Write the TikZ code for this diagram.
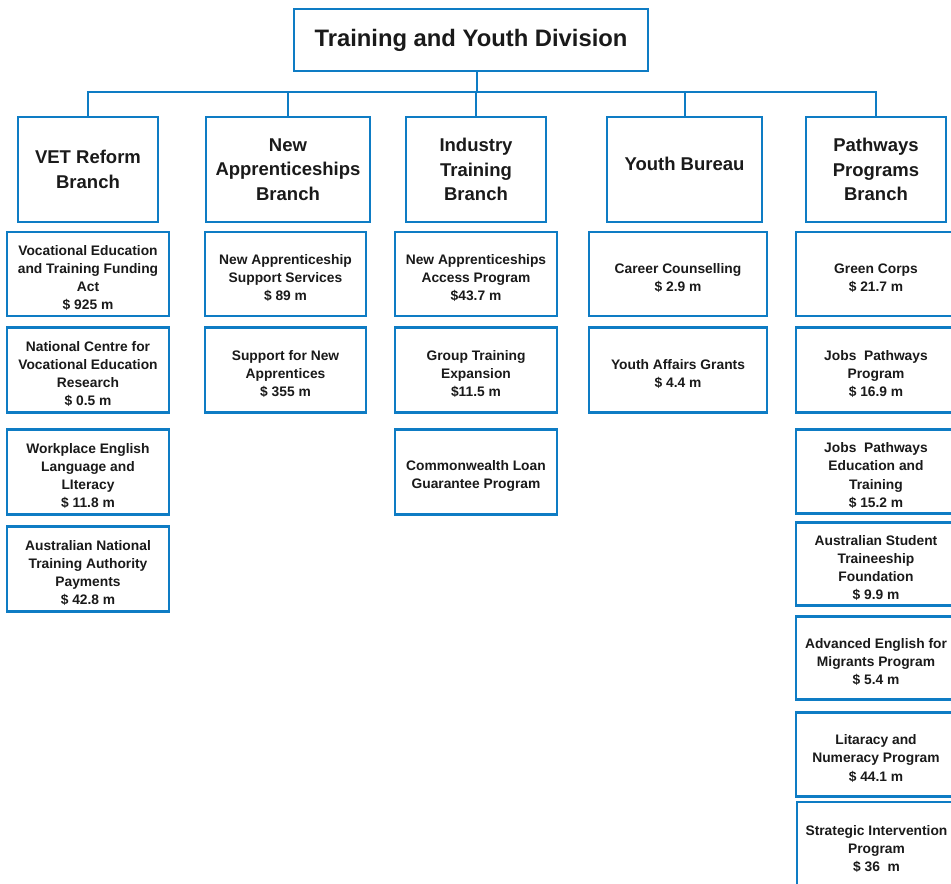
\documentclass[tikz,border=0pt]{standalone}
\usepackage{fontspec}
\setmainfont{Liberation Sans}
\definecolor{bblue}{RGB}{14,124,196}
\definecolor{tblack}{RGB}{26,26,26}
\tikzset{
  x=1pt, y=-1pt,
  obox/.style={draw=bblue, line width=2.5pt, fill=white, align=center, inner sep=0pt, text=tblack},
  titlebox/.style={obox, font=\fontsize{23.8}{28}\selectfont\bfseries},
  branchbox/.style={obox, font=\fontsize{18.5}{24.5}\selectfont\bfseries},
  itembox/.style={obox},
  itemtext/.style={align=center, inner sep=0pt, text=tblack, font=\fontsize{13.8}{18.2}\selectfont\bfseries},
  conn/.style={draw=bblue, line width=2pt},
}
\newcommand{\bx}[6]{\node[#1, minimum width=#4, minimum height=#5] (#2) at (#3) {#6};}
\newcommand{\ib}[5]{\node[itembox, minimum width=#3, minimum height=#4] (#1) at (#2) {};
  \node[itemtext, yshift=-4pt] (#1t) at (#1.center) {#5};}
\begin{document}
\begin{tikzpicture}
\path[use as bounding box, clip] (0,0) rectangle (951,884);
\fill[white] (0,0) rectangle (951,884);

% title
\bx{titlebox}{top}{471,40}{354}{62}{Training and Youth Division}

% branches
\bx{branchbox}{vet}{88,169.5}{140}{105}{VET Reform\\Branch}
\bx{branchbox}{nab}{288,169.5}{164}{105}{New\\Apprenticeships\\Branch}
\bx{branchbox}{itb}{476,169.5}{140}{105}{Industry\\Training\\Branch}
\bx{branchbox}{yb}{684.5,169.5}{155}{105}{\raisebox{6pt}[\height][\depth]{Youth Bureau}}
\bx{branchbox}{ppb}{876,169.5}{140}{105}{Pathways\\Programs\\Branch}

% connectors
\coordinate (bus) at (477,92);
\draw[conn] (top.south -| bus) -- (bus);
\draw[conn] (vet.north) |- (bus) -| (ppb.north);
\draw[conn] (nab.north) -- (nab.north |- bus);
\draw[conn] (itb.north) -- (itb.north |- bus);
\draw[conn] (yb.north) -- (yb.north |- bus);

% VET column
\ib{v1}{88,274}{162}{84}{Vocational Education\\and Training Funding\\Act\\\$ 925 m}
\ib{v2}{88,370}{162}{85}{National Centre for\\Vocational Education\\Research\\\$ 0.5 m}
\ib{v3}{88,472}{162}{85}{Workplace English\\Language and\\LIteracy\\\$ 11.8 m}
\ib{v4}{88,569}{162}{85}{Australian National\\Training Authority\\Payments\\\$ 42.8 m}

% New Apprenticeships column
\ib{n1}{285.5,274}{161}{84}{New Apprenticeship\\Support Services\\\$ 89 m}
\ib{n2}{285.5,370}{161}{85}{Support for New\\Apprentices\\\$ 355 m}

% Industry column
\ib{i1}{476,274}{162}{84}{New Apprenticeships\\Access Program\\\$43.7 m}
\ib{i2}{476,370}{162}{85}{Group Training\\Expansion\\\$11.5 m}
\ib{i3}{476,472}{162}{85}{Commonwealth Loan\\Guarantee Program}

% Youth column
\ib{y1}{678,274}{178}{84}{Career Counselling\\\$ 2.9 m}
\ib{y2}{678,370}{178}{85}{Youth Affairs Grants\\\$ 4.4 m}

% Pathways column
\ib{p1}{876,274}{160}{84}{Green Corps\\\$ 21.7 m}
\ib{p2}{876,370}{160}{85}{Jobs\ \ Pathways\\Program\\\$ 16.9 m}
\ib{p3}{876,471.5}{160}{84}{Jobs\ \ Pathways\\Education and\\Training\\\$ 15.2 m}
\ib{p4}{876,564}{160}{83}{Australian Student\\Traineeship\\Foundation\\\$ 9.9 m}
\ib{p5}{876,658}{160}{83}{Advanced English for\\Migrants Program\\\$ 5.4 m}
\ib{p6}{876,754.5}{160}{84}{Litaracy and\\Numeracy Program\\\$ 44.1 m}
\ib{p7}{876.5,845}{159}{86}{Strategic Intervention\\Program\\\$ 36\ \ m}
\end{tikzpicture}
\end{document}
